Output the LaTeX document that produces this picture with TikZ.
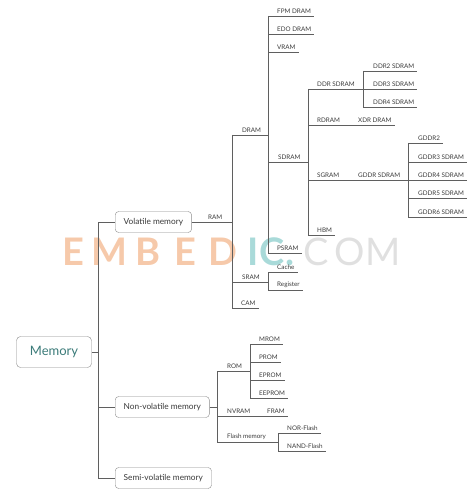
\documentclass[tikz,border=0pt]{standalone}
\usepackage{fontspec}
\setmainfont{Lato}
\usetikzlibrary{positioning}
\usetikzlibrary{calc}
\usepackage{xcolor}

\definecolor{linegray}{HTML}{5F5F5F}
\definecolor{boxgray}{HTML}{8A8A8A}
\definecolor{textgray}{HTML}{3A3A3A}
\definecolor{memteal}{HTML}{3C7C7A}
\definecolor{wmorange}{HTML}{F6C9AA}
\definecolor{wmteal}{HTML}{A9DAD9}
\definecolor{wmgray}{HTML}{E0E0E0}

\tikzset{
  branch/.style={draw=linegray, line width=0.7pt},
  leaf/.style={anchor=south west, inner xsep=3pt, inner ysep=2.5pt, text=textgray, font=\fontsize{6.3}{7}\selectfont},
  catbox/.style={draw=boxgray, rounded corners=3.5pt, fill=white, anchor=west, minimum height=21pt, inner xsep=8.5pt, text=textgray, font=\fontsize{8.3}{10}\selectfont},
  rootbox/.style={draw=boxgray, rounded corners=4pt, fill=white, minimum width=75pt, minimum height=31pt, text=memteal, font=\fontsize{13}{15}\selectfont},
  wmark/.style={anchor=base, inner sep=0pt, font=\fontsize{38}{40}\selectfont}
}

\begin{document}
\begin{tikzpicture}[x=1pt,y=-1pt]
  \useasboundingbox (0,0) rectangle (474,497);

  % Watermark
  \foreach \ch/\x/\col [count=\i] in {E/73.5/wmorange, M/109.5/wmorange, B/148.5/wmorange, E/185.5/wmorange, D/222.5/wmorange, I/253.5/wmteal, C/272/wmteal, ./290/wmteal}
  {
    \node[wmark, text=\col, font=\fontsize{38}{40}\selectfont\bfseries] (wm\i) at (\x,265) {\ch};
  }
  \foreach \ch/\x [count=\i] in {C/316, O/350, M/383}
  {
    \node[wmark, text=wmgray] (wmc\i) at (\x,265) {\ch};
  }

  % Root and categories
  \node[rootbox] (memory) at (54,352) {Memory};
  \coordinate (trunk) at (98,352);
  \node[catbox] (volatile) at (115,222) {Volatile memory};
  \node[catbox] (nonvolatile) at (115,407) {Non-volatile memory};
  \node[catbox] (semivolatile) at (115,478) {Semi-volatile memory};
  \draw[branch] (memory.east) -- (trunk);
  \draw[branch] (trunk |- volatile.west) -- (trunk |- semivolatile.west);
  \foreach \n in {volatile,nonvolatile,semivolatile}
    \draw[branch] (trunk |- \n.west) -- (\n.west);

  % Volatile: RAM
  \coordinate (ramx) at (232,0);
  \node[leaf] (ram) at (205,222) {RAM};
  \draw[branch] (volatile.east) -- (ramx |- volatile.east);
  \node[leaf] (dram) at (239,135) {DRAM};
  \node[leaf] (sram) at (239,282) {SRAM};
  \node[leaf] (cam) at (238,308) {CAM};
  \draw[branch] (ramx |- dram.south) -- (ramx |- cam.south);
  \draw[branch] (ramx |- cam.south) -- (cam.south east);

  % DRAM
  \coordinate (dramx) at (268,0);
  \draw[branch] (ramx |- dram.south) -- (dramx |- dram.south);
  \foreach \name/\txt/\y in {fpm/FPM DRAM/16, edo/EDO DRAM/34, vram/VRAM/52, psram/PSRAM/253}
  {
    \node[leaf] (\name) at (274,\y) {\txt};
    \draw[branch] (dramx |- \name.south) -- (\name.south east);
  }
  \node[leaf] (sdram) at (275,162) {SDRAM};
  \draw[branch] (dramx |- fpm.south) -- (dramx |- psram.south);

  % SDRAM
  \coordinate (sdramx) at (308,0);
  \draw[branch] (dramx |- sdram.south) -- (sdramx |- sdram.south);
  \node[leaf] (ddr) at (314,89) {DDR SDRAM};
  \node[leaf] (rdram) at (314,125) {RDRAM};
  \node[leaf] (sgram) at (314,180) {SGRAM};
  \node[leaf] (hbm) at (314,235) {HBM};
  \draw[branch] (sdramx |- ddr.south) -- (sdramx |- hbm.south);
  \draw[branch] (sdramx |- hbm.south) -- (hbm.south east);
  \node[leaf] (xdr) at (355,125) {XDR DRAM};
  \draw[branch] (sdramx |- rdram.south) -- (xdr.south east);

  % DDR SDRAM
  \coordinate (ddrx) at (363,0);
  \draw[branch] (sdramx |- ddr.south) -- (ddrx |- ddr.south);
  \foreach \k/\y in {2/71,3/89,4/107}
  {
    \node[leaf] (ddr\k) at (370,\y) {DDR\k{} SDRAM};
    \draw[branch] (ddrx |- ddr\k.south) -- (ddr\k.south east);
  }
  \draw[branch] (ddrx |- ddr2.south) -- (ddrx |- ddr4.south);

  % GDDR SDRAM
  \coordinate (gddrx) at (408,0);
  \node[leaf] (gddr) at (355,180) {GDDR SDRAM};
  \draw[branch] (sdramx |- sgram.south) -- (gddrx |- gddr.south);
  \foreach \name/\txt/\y in {gddr2/GDDR2/143, gddr3/GDDR3 SDRAM/162, gddr4/GDDR4 SDRAM/180, gddr5/GDDR5 SDRAM/198, gddr6/GDDR6 SDRAM/217}
  {
    \node[leaf] (\name) at (415,\y) {\txt};
    \draw[branch] (gddrx |- \name.south) -- (\name.south east);
  }
  \draw[branch] (gddrx |- gddr2.south) -- (gddrx |- gddr6.south);

  % SRAM
  \coordinate (sramx) at (268,0);
  \draw[branch] (ramx |- sram.south) -- (sramx |- sram.south);
  \node[leaf] (cache) at (274,272) {Cache};
  \node[leaf] (register) at (274,290) {Register};
  \draw[branch] (sramx |- cache.south) -- (cache.south east);
  \draw[branch] (sramx |- register.south) -- (register.south east);
  \draw[branch] (sramx |- cache.south) -- (sramx |- register.south);

  % Non-volatile
  \coordinate (nvx) at (217,0);
  \draw[branch] (nonvolatile.east) -- (nvx |- nonvolatile.east);
  \node[leaf] (rom) at (224,371) {ROM};
  \node[leaf] (nvram) at (224,416) {NVRAM};
  \node[leaf] (flash) at (224,442) {Flash memory};
  \draw[branch] (nvx |- rom.south) -- (nvx |- flash.south);

  % ROM
  \coordinate (romx) at (250,0);
  \draw[branch] (nvx |- rom.south) -- (romx |- rom.south);
  \foreach \name/\txt/\y in {mrom/MROM/344, prom/PROM/362, eprom/EPROM/380, eeprom/EEPROM/398}
  {
    \node[leaf] (\name) at (256,\y) {\txt};
    \draw[branch] (romx |- \name.south) -- (\name.south east);
  }
  \draw[branch] (romx |- mrom.south) -- (romx |- eeprom.south);

  % NVRAM
  \node[leaf] (fram) at (264,416) {FRAM};
  \draw[branch] (nvx |- nvram.south) -- (fram.south east);

  % Flash memory
  \coordinate (flashx) at (278,0);
  \draw[branch] (nvx |- flash.south) -- (flashx |- flash.south);
  \node[leaf] (nor) at (284,433) {NOR-Flash};
  \node[leaf] (nand) at (284,451) {NAND-Flash};
  \draw[branch] (flashx |- nor.south) -- (nor.south east);
  \draw[branch] (flashx |- nand.south) -- (nand.south east);
  \draw[branch] (flashx |- nor.south) -- (flashx |- nand.south);
\end{tikzpicture}
\end{document}
